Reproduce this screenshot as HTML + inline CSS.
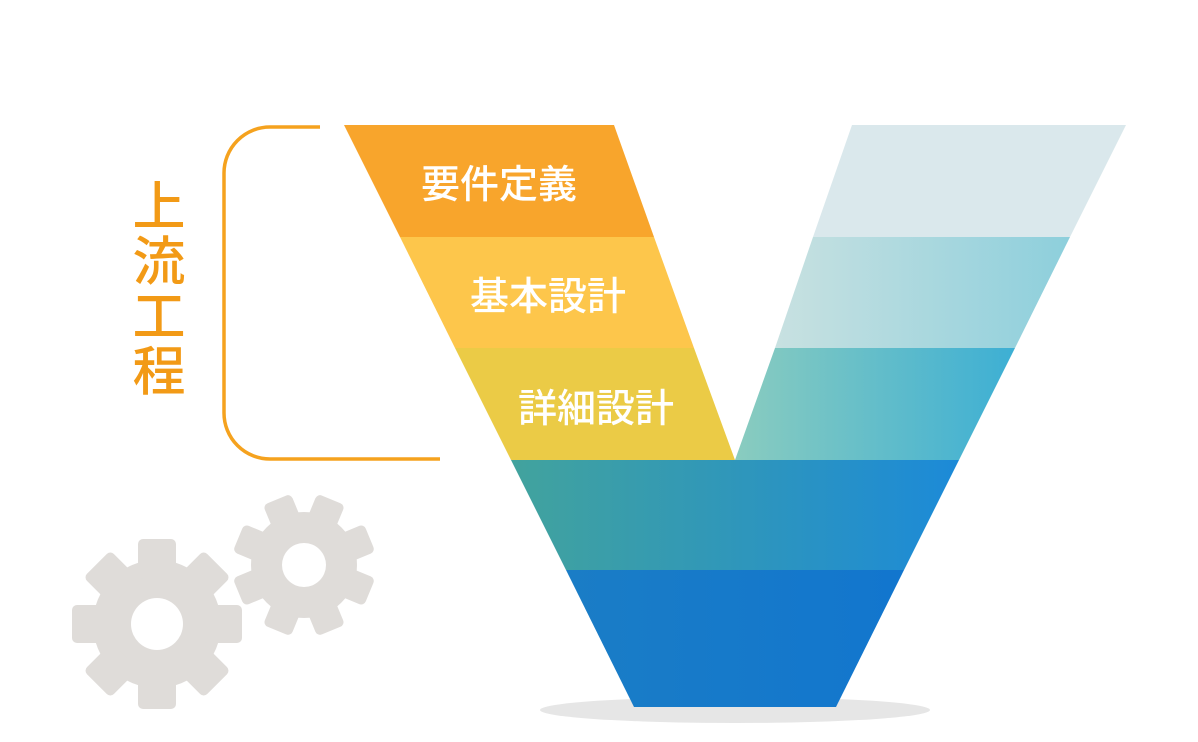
<!DOCTYPE html>
<html><head><meta charset="utf-8"><style>
html,body{margin:0;padding:0;background:#fff;}
svg{display:block}
text{font-family:"Liberation Sans","Noto Sans CJK JP",sans-serif;}
</style></head><body>
<svg width="1198" height="742" viewBox="0 0 1198 742" xmlns="http://www.w3.org/2000/svg">
<defs>
<linearGradient id="g2" x1="776" x2="1070" gradientUnits="userSpaceOnUse"><stop offset="0" stop-color="#C8E1E1"/><stop offset="1" stop-color="#8DCFDC"/></linearGradient>
<linearGradient id="g3" x1="735" x2="1015" gradientUnits="userSpaceOnUse"><stop offset="0" stop-color="#8ACCBF"/><stop offset="1" stop-color="#3DAFD4"/></linearGradient>
<linearGradient id="g4" x1="510" x2="960" gradientUnits="userSpaceOnUse"><stop offset="0" stop-color="#42A39D"/><stop offset="1" stop-color="#1C8AD8"/></linearGradient>
<linearGradient id="g5" x1="566" x2="905" gradientUnits="userSpaceOnUse"><stop offset="0" stop-color="#1A7DC6"/><stop offset="1" stop-color="#1276CE"/></linearGradient>
</defs>
<ellipse cx="735" cy="710" rx="195" ry="13" fill="#E6E6E6"/>
<polygon points="344,125 614,125 654,237 400,237" fill="#F8A52C"/>
<polygon points="400,237 654,237 694,348 455,348" fill="#FDC64B"/>
<polygon points="455,348 694,348 735,460 511,460" fill="#EBCB46"/>
<polygon points="852,125 1126,125 1070,237 813,237" fill="#DAE8EC"/>
<polygon points="813,237 1070,237 1015,348 775,348" fill="url(#g2)"/>
<polygon points="775,348 1015,348 959,460 735,460" fill="url(#g3)"/>
<polygon points="511,460 959,460 904,570 566,570" fill="url(#g4)"/>
<polygon points="566,570 904,570 836,707 634,707" fill="url(#g5)"/>
<g fill="#fff" font-size="39" font-weight="500" text-anchor="middle">
<text x="499" y="198">要件定義</text>
<text x="548" y="310">基本設計</text>
<text x="596" y="422">詳細設計</text>
</g>
<path d="M320,127 H270 A46,46 0 0 0 224,173 V413 A46,46 0 0 0 270,459 H440" fill="none" stroke="#F5A21E" stroke-width="3.5"/>
<g fill="#F29A16" font-size="53" font-weight="500" text-anchor="middle">
<text x="159" y="225">上</text>
<text x="159" y="280">流</text>
<text x="159" y="335">工</text>
<text x="159" y="390">程</text>
</g>
<g fill="#DFDCD9">
<g transform="translate(157,624)">
<circle r="64"/>
<g id="t1"><rect x="-19" y="-85" width="38" height="40" rx="5"/></g>
<use href="#t1" transform="rotate(45)"/><use href="#t1" transform="rotate(90)"/><use href="#t1" transform="rotate(135)"/>
<use href="#t1" transform="rotate(180)"/><use href="#t1" transform="rotate(225)"/><use href="#t1" transform="rotate(270)"/><use href="#t1" transform="rotate(315)"/>
</g>
<g transform="translate(304,565) rotate(22.5)">
<circle r="53"/>
<g id="t2"><rect x="-15" y="-71" width="30" height="34" rx="5"/></g>
<use href="#t2" transform="rotate(45)"/><use href="#t2" transform="rotate(90)"/><use href="#t2" transform="rotate(135)"/>
<use href="#t2" transform="rotate(180)"/><use href="#t2" transform="rotate(225)"/><use href="#t2" transform="rotate(270)"/><use href="#t2" transform="rotate(315)"/>
</g>
</g>
<circle cx="157" cy="624" r="26" fill="#fff"/>
<circle cx="304" cy="565" r="22" fill="#fff"/>
</svg>
</body></html>
